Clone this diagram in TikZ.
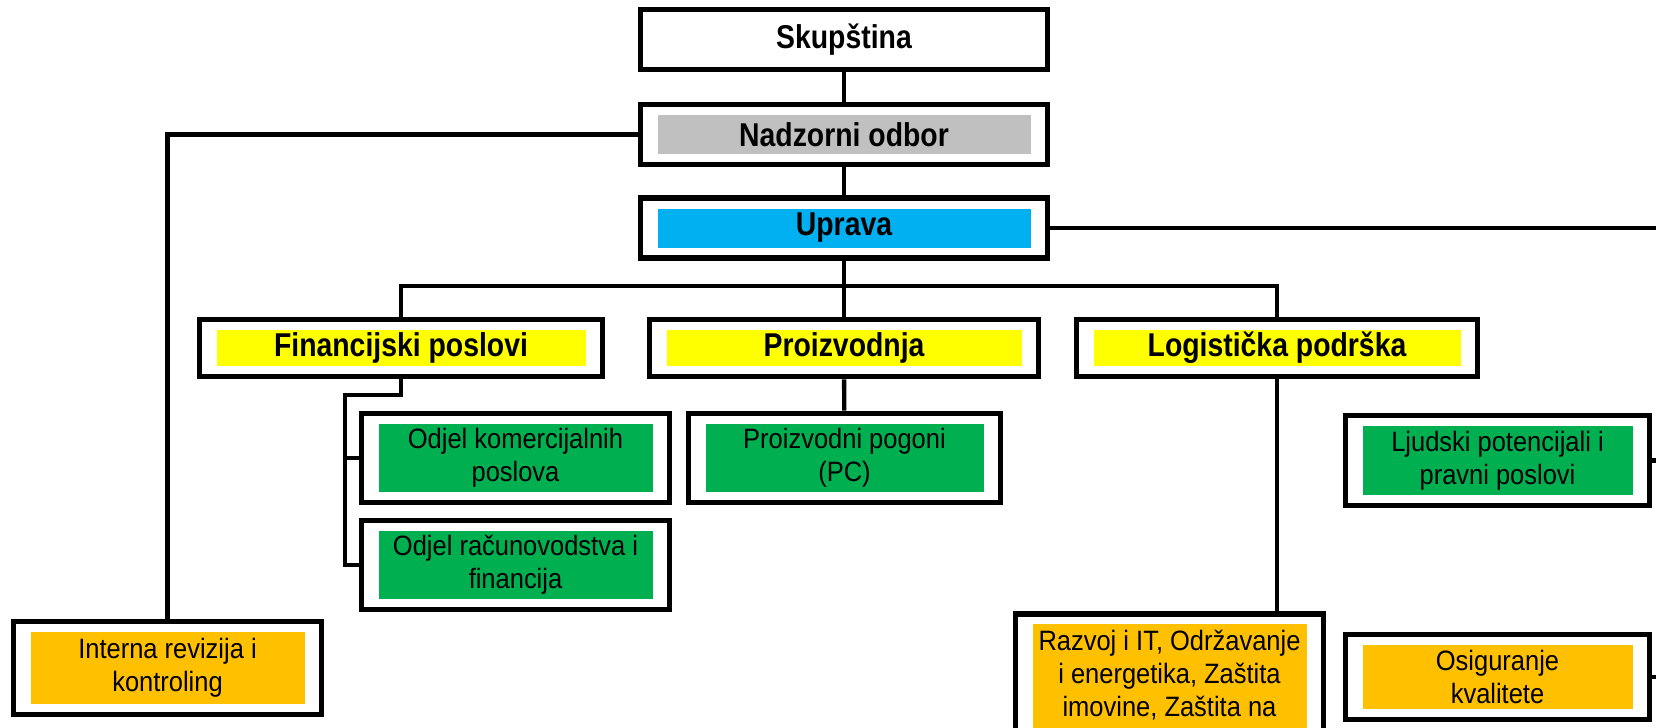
\documentclass[tikz,border=0pt]{standalone}
\usepackage{fontspec}
\setmainfont{Liberation Sans}
\newfontfamily\headfont[FakeStretch=0.86]{Liberation Sans}
\newfontfamily\bodyfont[FakeStretch=0.91]{Liberation Sans}
\definecolor{graybar}{HTML}{C0C0C0}
\definecolor{bluebar}{HTML}{00B0F0}
\definecolor{yellowbar}{HTML}{FFFF00}
\definecolor{greenbar}{HTML}{00B050}
\definecolor{orangebar}{HTML}{FFC000}
\begin{document}
\begin{tikzpicture}[x=0.5pt, y=-0.5pt,
    unit/.style={rectangle, draw, line width=2.8pt, fill=white, align=center, inner sep=0pt,
        path picture={\fill[#1] ([shift={(8.5pt,5.25pt)}]path picture bounding box.south west)
            rectangle ([shift={(-8.5pt,-5.25pt)}]path picture bounding box.north east);}},
    head/.style={unit=#1, font=\headfont\bfseries\fontsize{16.5}{19}\selectfont, minimum height=30pt},
    dept/.style={unit=#1, font=\bodyfont\fontsize{14}{16.5}\selectfont, minimum width=154pt, minimum height=44.5pt},
    link/.style={line width=2.2pt}]
            \useasboundingbox (0,0) rectangle (1656,728);
            \clip (0,0) rectangle (1656,728);

            % Nodes
            \node (sk) [head=white, minimum width=203.5pt] at (844, 39.5) {Skupština};
            \node (nad) [head=graybar, minimum width=203.5pt] at (844, 134.5) {Nadzorni odbor};
            \node (upr) [head=bluebar, minimum width=203.5pt] at (844, 228) {Uprava};
            \node (fin) [head=yellowbar, minimum width=201.5pt, minimum height=28.5pt] at (401, 348) {Financijski poslovi};
            \node (pro) [head=yellowbar, minimum width=194.5pt, minimum height=28.5pt] at (844, 348) {Proizvodnja};
            \node (log) [head=yellowbar, minimum width=200.5pt, minimum height=28.5pt] at (1277, 348) {Logistička podrška};
            \node (kom) [dept=greenbar] at (515.5, 458) {Odjel komercijalnih\\poslova};
            \node (rac) [dept=greenbar] at (515.5, 565) {Odjel računovodstva i\\financija};
            \node (pog) [dept=greenbar, minimum width=156pt] at (844.5, 458) {Proizvodni pogoni\\(PC)};
            \node (lju) [dept=greenbar, minimum width=152pt, minimum height=45pt] at (1497.5, 460.5) {Ljudski potencijali i\\pravni poslovi};
            \node (int) [dept=orangebar, minimum height=46.5pt] at (167.5, 668) {Interna revizija i\\kontroling};
            \node (raz) [dept=orangebar, anchor=north, minimum height=0pt, inner ysep=6.25pt, text height=45pt, text depth=40pt] at (1169.5, 611) {Razvoj i IT, Održavanje\\i energetika, Zaštita\\imovine, Zaštita na};
            \node (osi) [dept=orangebar, minimum width=152pt, minimum height=42.5pt] at (1497.5, 677) {Osiguranje\\kvalitete};

            % Branch points
            \coordinate (bus) at (844, 286);
            \coordinate (fsplit) at (345, 395);
            \coordinate (rbus) at (1675, 228);

            % Edges
            \draw[link] (sk) -- (nad);
            \draw[link] (nad) -- (upr);
            \draw[link] (nad.west) -| (int.north);
            \draw[link] (upr.east) -- (rbus) |- (osi.east);
            \draw[link] (rbus |- lju.east) -- (lju.east);
            \draw[link] (upr) -- (bus);
            \draw[link] (fin.north) |- (bus) -| (log.north);
            \draw[link] (bus) -- (pro.north);
            % finance departments
            \draw[link] (fin.south) |- (fsplit) |- (rac.west);
            \draw[link] (fsplit |- kom.west) -- (kom.west);
            \draw[link] (pro) -- (pog);
            \draw[link] (log.south) -- (log.south |- raz.north);

        \end{tikzpicture}
\end{document}
